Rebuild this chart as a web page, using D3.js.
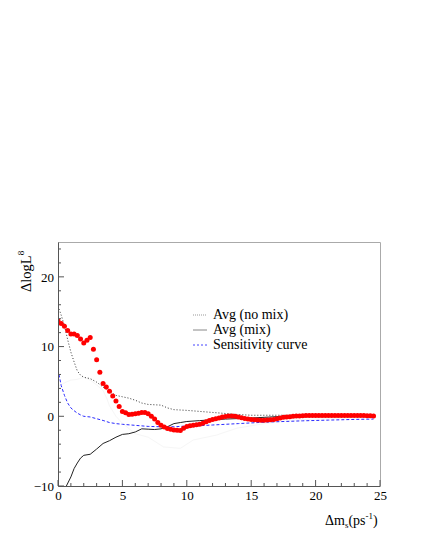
<!DOCTYPE html>
<html><head><meta charset="utf-8">
<script src="https://cdn.jsdelivr.net/npm/d3@7"></script>
<style>body{margin:0;background:#fff}svg{display:block}svg text{font-family:'Liberation Serif','Times New Roman',Times,serif !important;fill:#000}</style>
</head><body><svg id="c" width="421" height="545" font-family="Liberation Serif, serif"></svg>
<script>
// ---- data ----
const redX = d3.range(0, 24.51, 0.25);
const redY = [13.7,13.3,12.9,12.3,11.8,11.8,11.6,11.1,10.5,10.9,11.3,9.6,8.1,6.3,4.7,4.2,3.6,2.9,2.2,1.4,
  0.7,0.5,0.25,0.3,0.35,0.45,0.55,0.55,0.35,0.0,-0.4,-0.9,-1.3,-1.55,-1.75,-1.85,-1.95,-2.0,-2.05,-1.7,
  -1.45,-1.35,-1.3,-1.2,-1.15,-1.0,-0.8,-0.6,-0.45,-0.35,-0.25,-0.12,-0.02,0.05,0.05,0.02,-0.1,-0.2,-0.3,-0.4,
  -0.45,-0.5,-0.55,-0.57,-0.57,-0.55,-0.5,-0.45,-0.35,-0.25,-0.15,-0.1,-0.05,0.0,0.05,0.05,0.08,0.1,0.1,0.12,
  0.12,0.1,0.12,0.12,0.12,0.1,0.12,0.12,0.12,0.12,0.1,0.12,0.12,0.1,0.1,0.1,0.08,0.08,0.05];
const noMixX = [0,0.25,0.5,0.75,1,1.25,1.5,1.75,2,2.5,3,3.5,4,4.5,5,5.5,6,6.5,7,7.5,8,8.5,9,10,11,12,13,14,15,16,17,18,20,22,24.5];
const noMixY = [15.8,14.5,13.0,11.0,9.2,7.8,6.5,5.9,5.6,5.4,4.9,4.2,3.5,3.0,2.8,2.6,2.3,1.9,1.7,1.65,1.6,1.2,0.95,0.85,0.7,0.55,0.4,0.25,0.15,0.15,0.15,0.15,0.15,0.15,0.15];
const mixX = [0.65,1,1.25,1.5,1.75,2,2.5,3,3.5,4,4.5,5,5.5,6,6.5,7,7.5,8,8.5,9,9.5,10,11,12,13,14,15,16,17,18,20,22,24.5];
const mixY = [-10,-8.7,-7.5,-6.7,-6.0,-5.6,-5.45,-4.7,-3.9,-3.5,-3.0,-2.6,-2.5,-2.25,-1.8,-1.85,-1.9,-1.8,-1.5,-1.05,-0.9,-0.75,-0.62,-0.5,-0.4,-0.33,-0.25,-0.15,-0.05,0,0,0.05,0.05];
const sensX = [0,0.25,0.5,0.75,1,1.25,1.5,1.75,2,2.5,3,3.5,4,4.5,5,6,7,8,9,10,11,12,13,14,15,16,17,18,19,20,21,22,23,24.5];
const sensY = [6.7,4.4,3.0,1.9,1.2,0.8,0.45,0.2,0.0,-0.1,-0.35,-0.6,-0.9,-1.05,-1.15,-1.3,-1.45,-1.5,-1.5,-1.4,-1.35,-1.25,-1.15,-1.05,-0.95,-0.85,-0.78,-0.72,-0.65,-0.6,-0.55,-0.5,-0.45,-0.4];
const faintX = [0,0.5,1,1.5,2,2.5,3,3.5,3.8,4,4.5,5,6,7,8.2,9.5,10.5,12.3,13.9,16.2,18,20,22,24.5];
const faintY = [4.3,4.8,5.2,5.3,5.6,5.2,4.5,3.7,2.5,1.5,0,-1,-2.5,-3.0,-4.4,-4.6,-3.4,-2.7,-1.7,-1.0,-0.6,-0.4,-0.3,-0.2];
const xTicks = [0,5,10,15,20,25];
const yTicks = [-10,0,10,20];
const legendLabels = ["Avg (no mix)","Avg (mix)","Sensitivity curve"];

// ---- drawing ----
const FONT = "'Liberation Serif','Times New Roman',Times,serif";
const svg = d3.select("#c");
const x = d3.scaleLinear().domain([0,25]).range([58,380]);
const y = d3.scaleLinear().domain([-10,25]).range([486,242]);

svg.append("defs").append("clipPath").attr("id","clip").append("rect")
  .attr("x",58).attr("y",242).attr("width",322).attr("height",244);

svg.append("path").attr("d",`M58,242.5H380.5V486`).attr("fill","none").attr("stroke","#aaa").attr("stroke-width",1);

const g = svg.append("g").attr("clip-path","url(#clip)");
const line = d3.line().x(d=>x(d[0])).y(d=>y(d[1]));
const zip = (a,b)=>a.map((v,i)=>[v,b[i]]);

g.append("path").datum(zip(faintX,faintY)).attr("d",line).attr("fill","none").attr("stroke","#f6f6f6").attr("stroke-width",1);
g.append("path").datum(zip(noMixX,noMixY)).attr("d",line).attr("fill","none").attr("stroke","#333").attr("stroke-width",1).attr("stroke-dasharray","1,2");
g.append("path").datum(zip(mixX,mixY)).attr("d",line).attr("fill","none").attr("stroke","#222").attr("stroke-width",1);
g.append("path").datum(zip(sensX,sensY)).attr("d",line).attr("fill","none").attr("stroke","#2b2bff").attr("stroke-width",1).attr("stroke-dasharray","3,2");
g.selectAll("circle.r").data(zip(redX,redY)).enter().append("circle")
  .attr("cx",d=>x(d[0])).attr("cy",d=>y(d[1])).attr("r",2.5).attr("fill","#ff0000");

// axes
const xAxis = d3.axisBottom(x).tickValues(xTicks).tickSize(0).tickFormat(d3.format("d"));
const ax = svg.append("g").attr("transform","translate(0,486)").call(xAxis).attr("font-family",FONT);
ax.select(".domain").attr("stroke","#555");
ax.selectAll("text").attr("font-size",13).attr("dy","0.71em").attr("y",4.5).attr("font-family",FONT);
ax.selectAll(".tick line").remove();
d3.range(0,25.01,1).forEach(v=>{
  const major = v%5===0;
  svg.append("line").attr("x1",x(v)).attr("x2",x(v)).attr("y1",486).attr("y2",486-(major?6:3)).attr("stroke","#555");
});
const yAxis = d3.axisLeft(y).tickValues(yTicks).tickSize(0).tickFormat(d3.format("d"));
const ay = svg.append("g").attr("transform","translate(58,0)").call(yAxis).attr("font-family",FONT);
ay.select(".domain").attr("stroke","#555");
ay.selectAll("text").attr("font-size",13).attr("x",-4).attr("font-family",FONT);
d3.range(-10,25.01,2).forEach(v=>{
  const major = v%10===0;
  svg.append("line").attr("x1",58).attr("x2",58+(major?6:3)).attr("y1",y(v)).attr("y2",y(v)).attr("stroke","#555");
});

// axis titles
const xt = svg.append("text").attr("x",325).attr("y",525).attr("font-size",14).attr("font-family",FONT);
xt.append("tspan").text("Δm");
xt.append("tspan").attr("font-size",9).attr("dy",3).text("s");
xt.append("tspan").attr("dy",-3).text("(ps");
xt.append("tspan").attr("font-size",9).attr("dy",-6).text("-1");
xt.append("tspan").attr("dy",6).text(")");
const yt = svg.append("text").attr("transform","translate(31,292) rotate(-90)").attr("font-size",14.5).attr("font-family",FONT);
yt.append("tspan").text("ΔlogL");
yt.append("tspan").attr("font-size",9).attr("dy",-7).text("8");

// legend
const rows = [315,330,345];
const styles = [{s:"#999",d:"1,1"},{s:"#888",d:null},{s:"#4444ff",d:"2,2"}];
legendLabels.forEach((t,i)=>{
  const l = svg.append("line").attr("x1",193).attr("x2",207).attr("y1",rows[i]).attr("y2",rows[i])
    .attr("stroke",styles[i].s).attr("stroke-width",1);
  if(styles[i].d) l.attr("stroke-dasharray",styles[i].d);
  svg.append("text").attr("x",213).attr("y",rows[i]+3.5).attr("font-size",14).attr("font-family",FONT).text(t);
});
</script></body></html>
